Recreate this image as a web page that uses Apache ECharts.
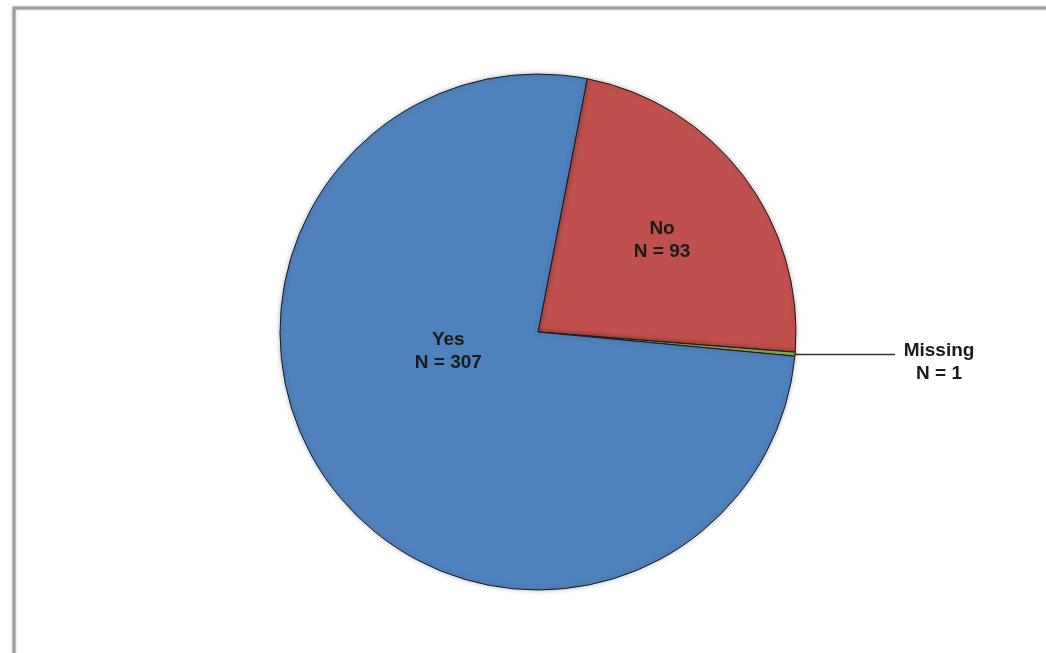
<!DOCTYPE html>
<html>
<head>
<meta charset="utf-8">
<script src="https://cdn.jsdelivr.net/npm/echarts@6/dist/echarts.min.js"></script>
<style>
html,body{margin:0;padding:0;background:#fff;}
#c{width:1046px;height:653px;}
</style>
</head>
<body>
<div id="c"></div>
<script>
const categories = ['No', 'Missing', 'Yes'];
const values = [93, 1, 307];
const colors = ['#c0504d', '#9bbb59', '#4f81bd'];

const chart = echarts.init(document.getElementById('c'));
const labelFont = { fontFamily: 'Liberation Sans, Arial, sans-serif', fontWeight: 'bold', fontSize: 19, lineHeight: 23, color: '#1a1a1a' };

const data = categories.map((name, i) => {
  const item = { name: name, value: values[i], itemStyle: { color: colors[i] } };
  if (name === 'No') {
    item.label = Object.assign({ position: 'inside', offset: [19, -12], formatter: '{b}\nN = {c}' }, labelFont);
    item.labelLine = { show: false };
  } else if (name === 'Yes') {
    item.label = Object.assign({ position: 'inside', offset: [16, -60], formatter: '{b}\nN = {c}' }, labelFont);
    item.labelLine = { show: false };
  } else {
    item.label = {
      position: 'outside',
      formatter: '{a|{b}}\n{a|N = {c}}',
      padding: [16, 0, 0, 0],
      rich: { a: Object.assign({ width: 78, align: 'center' }, labelFont) }
    };
    item.labelLine = { show: true, length: 4, length2: 96, lineStyle: { color: '#333', width: 1.5 } };
  }
  return item;
});

chart.setOption({
  animation: false,
  backgroundColor: '#fff',
  graphic: [{
    type: 'rect',
    shape: { x: 14, y: 8, width: 1200, height: 800 },
    style: { fill: 'none', stroke: '#9c9c9c', lineWidth: 3, shadowBlur: 3, shadowColor: 'rgba(0,0,0,0.25)' },
    z: -10
  }],
  series: [{
    type: 'pie',
    center: [538, 332],
    radius: [0, 258],
    startAngle: 79,
    clockwise: true,
    avoidLabelOverlap: false,
    itemStyle: { borderColor: '#1a1a1a', borderWidth: 1, shadowBlur: 5, shadowColor: 'rgba(0,0,0,0.25)' },
    emphasis: { disabled: true },
    data: data
  }]
});
</script>
</body>
</html>
